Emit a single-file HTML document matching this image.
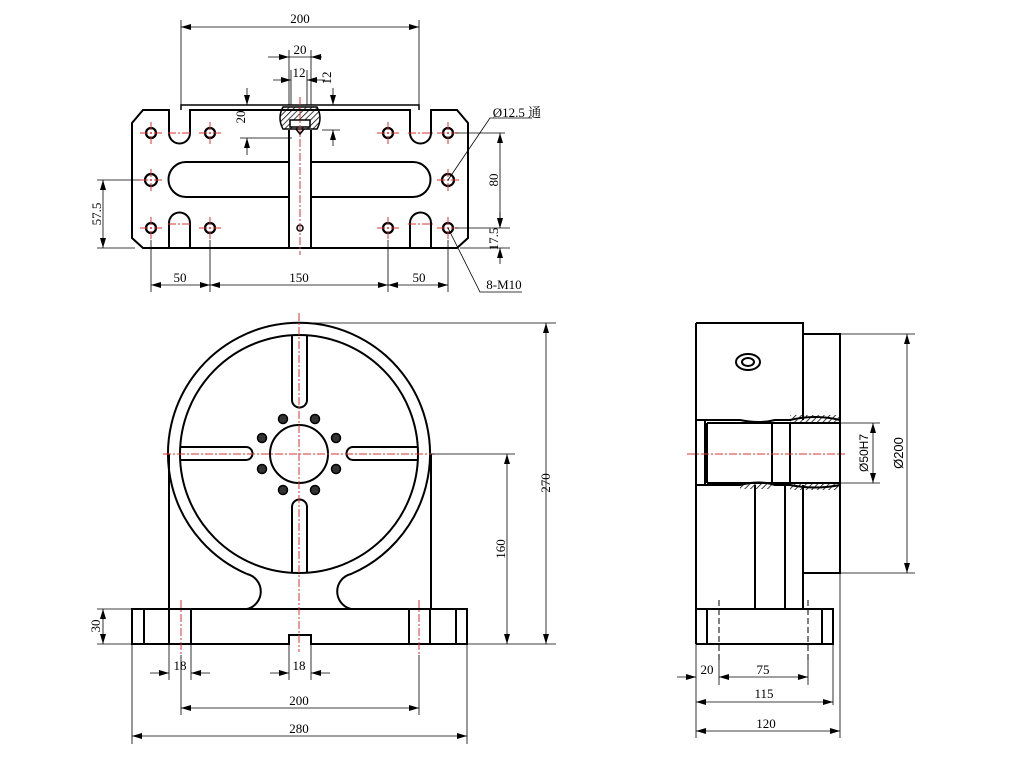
<!DOCTYPE html>
<html><head><meta charset="utf-8"><style>html,body{margin:0;padding:0;background:#fff}svg{display:block}</style></head>
<body>
<svg width="1014" height="768" viewBox="0 0 1014 768" xmlns="http://www.w3.org/2000/svg" font-family="'Liberation Serif','Noto Serif CJK SC',serif" font-size="13">
<defs>
<marker id="a" viewBox="0 0 10 6" refX="10" refY="3" markerWidth="10" markerHeight="6" markerUnits="userSpaceOnUse" orient="auto-start-reverse"><path d="M0,0 L10,3 L0,6z" fill="#000"/></marker>
<pattern id="h" width="4" height="4" patternUnits="userSpaceOnUse" patternTransform="rotate(45)"><line x1="0" y1="0" x2="0" y2="4" stroke="#000" stroke-width="1.5"/></pattern>
</defs>

<!-- ===== TOP VIEW ===== -->
<g fill="none" stroke="#000" stroke-width="2">
<path d="M143,110 L169,110 L169,133 A10.5,10.5 0 0 0 190,133 L190,110 L410,110 L410,133 A10.5,10.5 0 0 0 431,133 L431,110 L457,110 L468,123 L468,238 L457,248 L143,248 L132,238 L132,123 Z"/>
<path d="M181,110 L181,105 L419,105 L419,110" stroke-width="1.5"/>
<path d="M289,130 L289,248 M311,130 L311,248"/>
<path d="M289,162 L186,162 A17.5,17.5 0 0 0 186,197 L289,197"/>
<path d="M311,162 L413,162 A17.5,17.5 0 0 1 413,197 L311,197"/>
<path d="M169,248 L169,223 A10.5,10.5 0 0 1 190,223 L190,248"/>
<path d="M410,248 L410,223 A10.5,10.5 0 0 1 431,223 L431,248"/>
<g stroke-width="2.2">
<circle cx="151" cy="133" r="5"/><circle cx="210" cy="133" r="5"/><circle cx="388" cy="133" r="5"/><circle cx="448" cy="133" r="5"/>
<circle cx="151" cy="180" r="6"/><circle cx="448" cy="180" r="6"/>
<circle cx="151" cy="228" r="5"/><circle cx="210" cy="228" r="5"/><circle cx="388" cy="228" r="5"/><circle cx="448" cy="228" r="5"/>
</g>
<circle cx="300" cy="228" r="3" stroke-width="1.5"/>
<path d="M283,107 L317,107 Q323,118 317,129 L283,129 Q277,118 283,107 Z" fill="url(#h)" stroke-width="1.5"/>
<rect x="290" y="120" width="20" height="7" fill="#fff" stroke-width="1.5"/>
<path d="M296,129 L300,134 L304,129" stroke-width="1.5"/>
</g>
<g stroke="#d33" stroke-width="1" stroke-dasharray="8,2,2,2" fill="none">
<path d="M140,133 H162 M199,133 H222 M377,133 H399 M437,133 H460 M168,133 H192 M408,133 H433"/>
<path d="M140,180 H162 M437,180 H460 M140,228 H162 M199,228 H222 M377,228 H399 M437,228 H460 M168,224 H192 M408,224 H433"/>
<path d="M300,97 V255 M151,122 V144 M210,122 V144 M388,122 V144 M448,122 V144 M151,169 V191 M448,169 V191 M151,217 V239 M210,217 V239 M388,217 V239 M448,217 V239"/>
</g>
<g stroke="#000" stroke-width="0.8" fill="none">
<path d="M181,20 V105 M419,20 V105"/>
<path d="M181,27 H419" marker-start="url(#a)" marker-end="url(#a)"/>
<path d="M289,50 V105 M311,50 V105 M291,70 V105 M307,70 V105"/>
<path d="M268,57 H289" marker-end="url(#a)"/><path d="M322,57 H311" marker-end="url(#a)"/><path d="M289,57 H311"/>
<path d="M273,80 H291" marker-end="url(#a)"/><path d="M325,80 H307" marker-end="url(#a)"/>
<path d="M322,105 H340 M322,130 H340"/>
<path d="M333,88 V105" marker-end="url(#a)"/><path d="M333,146 V130" marker-end="url(#a)"/>
<path d="M240,105 H285 M240,138 H292"/>
<path d="M247,88 V105" marker-end="url(#a)"/><path d="M247,155 V138" marker-end="url(#a)"/>
<path d="M448,180 L490,118 H532"/>
<path d="M455,133 H505 M455,228 H510 M460,248 H510"/>
<path d="M500,133 V228" marker-start="url(#a)" marker-end="url(#a)"/>
<path d="M500,212 V228" marker-end="url(#a)"/><path d="M500,264 V248" marker-end="url(#a)"/>
<path d="M97,180 H140 M97,248 H135"/>
<path d="M103,180 V248" marker-start="url(#a)" marker-end="url(#a)"/>
<path d="M151,240 V292 M210,240 V292 M388,240 V292 M448,240 V292"/>
<path d="M151,285 H210" marker-start="url(#a)" marker-end="url(#a)"/>
<path d="M210,285 H388" marker-start="url(#a)" marker-end="url(#a)"/>
<path d="M388,285 H448" marker-start="url(#a)" marker-end="url(#a)"/>
<path d="M448,228 L480,292 H522"/>
</g>
<g fill="#000" text-anchor="middle">
<text x="300" y="23">200</text><text x="300" y="54">20</text><text x="299" y="77">12</text>
<text transform="translate(331,78) rotate(-90)">12</text>
<text transform="translate(245,117) rotate(-90)">20</text>
<text x="517" y="117">Ø12.5 通</text>
<text transform="translate(498,180) rotate(-90)">80</text>
<text transform="translate(498,239) rotate(-90)">17.5</text>
<text transform="translate(101,214) rotate(-90)">57.5</text>
<text x="180" y="282">50</text><text x="299" y="282">150</text><text x="419" y="282">50</text>
<text x="504" y="289">8-M10</text>
</g>

<!-- ===== FRONT VIEW ===== -->
<g fill="none" stroke="#000" stroke-width="2">
<path d="M247,574 A131,131 0 1 1 351,574 A18,18 0 0 0 351,609"/>
<path d="M247,574 A18,18 0 0 1 247,609"/>
<circle cx="299" cy="454" r="119"/>
<path d="M169,454 V609 M431,454 V609"/>
<path d="M132,609 H467 V644 H311 V635 H289 V644 H132 Z"/>
<path d="M144,609 V644 M169,609 V644 M191,609 V644 M409,609 V644 M430,609 V644 M456,609 V644"/>
<path d="M292,336 V400 A7.5,7.5 0 0 0 307,400 V336"/>
<path d="M292,573 V507 A7.5,7.5 0 0 1 307,507 V573"/>
<path d="M181,447 H246 A6.5,6.5 0 0 1 246,460 H181"/>
<path d="M417,447 H353 A6.5,6.5 0 0 0 353,460 H417"/>
<circle cx="299" cy="454" r="29"/>
</g>
<g fill="#333" stroke="#000" stroke-width="1.5">
<circle cx="283" cy="419" r="4.5"/><circle cx="315" cy="419" r="4.5"/><circle cx="262" cy="438" r="4.5"/><circle cx="336" cy="438" r="4.5"/>
<circle cx="262" cy="469" r="4.5"/><circle cx="336" cy="469" r="4.5"/><circle cx="283" cy="490" r="4.5"/><circle cx="315" cy="490" r="4.5"/>
</g>
<g stroke="#d33" stroke-width="1" stroke-dasharray="8,2,2,2" fill="none">
<path d="M163,454 H435 M299,313 V652 M181,600 V655 M419,600 V655"/>
</g>
<g stroke="#000" stroke-width="0.8" fill="none">
<path d="M300,323 H556 M467,644 H556 M431,454 H515 M97,609 H132 M97,644 H132"/>
<path d="M546,323 V644" marker-start="url(#a)" marker-end="url(#a)"/>
<path d="M507,454 V644" marker-start="url(#a)" marker-end="url(#a)"/>
<path d="M103,609 V644" marker-start="url(#a)" marker-end="url(#a)"/>
<path d="M169,644 V680 M191,644 V680 M289,644 V680 M311,644 V680 M181,655 V715 M419,655 V715 M132,644 V744 M467,644 V744"/>
<path d="M150,673 H169" marker-end="url(#a)"/><path d="M210,673 H191" marker-end="url(#a)"/>
<path d="M270,673 H289" marker-end="url(#a)"/><path d="M330,673 H311" marker-end="url(#a)"/>
<path d="M181,708 H419" marker-start="url(#a)" marker-end="url(#a)"/>
<path d="M132,736 H467" marker-start="url(#a)" marker-end="url(#a)"/>
</g>
<g fill="#000" text-anchor="middle">
<text transform="translate(550,483) rotate(-90)">270</text>
<text transform="translate(505,549) rotate(-90)">160</text>
<text transform="translate(100,626) rotate(-90)">30</text>
<text x="180" y="670">18</text><text x="299" y="670">18</text>
<text x="299" y="705">200</text><text x="299" y="733">280</text>
</g>

<!-- ===== SIDE VIEW ===== -->
<g fill="none" stroke="#000" stroke-width="2">
<path d="M696,323 H803 V420 M696,323 V644"/>
<path d="M803,334 H840 V573 H803 V485"/>
<path d="M803,334 V420"/>
<path d="M696,420 H740 Q760,424 775,420 H790 Q815,414 840,420 M696,485 H740 Q760,480 775,485 H790 Q815,490 840,485"/>
<path d="M705,420 V485 M707,423 V483 M772,423 V483 M790,423 V483 M707,423 H840 M707,483 H840"/>
<path d="M755,485 V609 M785,485 V609 M803,485 V609"/>
<path d="M696,609 H833 V644 H696 M707,609 V644 M822,609 V644"/>
<ellipse cx="748" cy="362" rx="12" ry="8"/><ellipse cx="748" cy="362" rx="6" ry="4"/>
</g>
<rect x="790" y="415" width="50" height="8" fill="url(#h)"/>
<rect x="790" y="483" width="50" height="7" fill="url(#h)"/>
<rect x="740" y="483" width="32" height="6" fill="url(#h)"/>
<g stroke="#000" stroke-width="1" stroke-dasharray="6,3" fill="none"><path d="M719,600 V660 M808,600 V660"/></g>
<g stroke="#d33" stroke-width="1" stroke-dasharray="8,2,2,2" fill="none"><path d="M687,454 H845"/></g>
<g stroke="#000" stroke-width="0.8" fill="none">
<path d="M840,423 H880 M840,483 H880 M840,334 H915 M840,573 H915"/>
<path d="M873,423 V483" marker-start="url(#a)" marker-end="url(#a)"/>
<path d="M907,334 V573" marker-start="url(#a)" marker-end="url(#a)"/>
<path d="M696,644 V738 M840,573 V738 M833,644 V705 M719,660 V685 M808,660 V685"/>
<path d="M677,677 H696" marker-end="url(#a)"/><path d="M719,677 H808" marker-start="url(#a)" marker-end="url(#a)"/>
<path d="M696,702 H833" marker-start="url(#a)" marker-end="url(#a)"/>
<path d="M696,731 H840" marker-start="url(#a)" marker-end="url(#a)"/>
</g>
<g fill="#000" text-anchor="middle">
<text transform="translate(868,453) rotate(-90)" font-family="'Liberation Sans',sans-serif" font-size="12">Ø50H7</text>
<text transform="translate(903,453) rotate(-90)" font-family="'Liberation Sans',sans-serif" font-size="13">Ø200</text>
<text x="707" y="674">20</text><text x="763" y="674">75</text>
<text x="764" y="698">115</text><text x="766" y="728">120</text>
</g>
</svg>
</body></html>
